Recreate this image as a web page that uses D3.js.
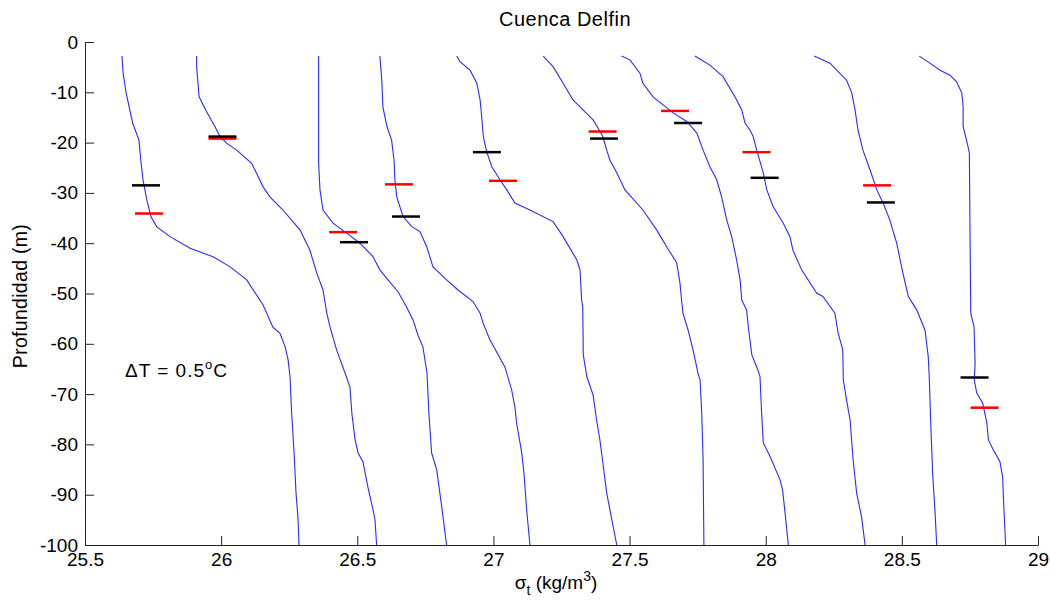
<!DOCTYPE html>
<html>
<head>
<meta charset="utf-8">
<script src="https://cdn.jsdelivr.net/npm/d3@7"></script>
<style>
  body { margin: 0; background: #fff; }
  text { font-family: "Liberation Sans", Arial, sans-serif; fill: #000; }
</style>
</head>
<body>
<div id="container"></div>
<script>

// sigma-t profiles, [sigma_t, depth]
const prof1 = [[25.636,-2.8],[25.640,-6.2],[25.651,-10.1],[25.675,-16.1],[25.698,-19.5],[25.705,-23.5],[25.713,-27.4],[25.727,-31.4],[25.742,-34.7],[25.763,-36.7],[25.812,-38.7],[25.886,-41.0],[25.970,-42.7],[26.033,-44.7],[26.094,-47.3],[26.154,-52.3],[26.190,-56.7],[26.216,-57.9],[26.235,-60.6],[26.246,-63.2],[26.253,-66.6],[26.259,-73.8],[26.268,-81.7],[26.275,-89.7],[26.282,-94.4],[26.286,-100]];
const prof2 = [[25.910,-2.8],[25.910,-4.9],[25.919,-10.9],[25.947,-13.9],[25.977,-16.8],[25.996,-18.8],[26.020,-20.1],[26.057,-21.5],[26.112,-24.1],[26.154,-28.8],[26.179,-30.8],[26.227,-33.4],[26.290,-37.4],[26.326,-41.4],[26.351,-45.9],[26.374,-49.3],[26.388,-53.9],[26.400,-56.7],[26.424,-61.2],[26.455,-65.8],[26.473,-68.6],[26.480,-73.8],[26.492,-79.1],[26.503,-81.7],[26.521,-83.5],[26.539,-88.5],[26.558,-93.0],[26.565,-95.0],[26.571,-100]];
const prof3 = [[26.358,-2.8],[26.358,-24.1],[26.363,-29.4],[26.374,-33.4],[26.411,-36.0],[26.461,-38.0],[26.510,-40.0],[26.558,-42.7],[26.583,-45.3],[26.613,-47.3],[26.650,-49.7],[26.681,-52.7],[26.705,-55.3],[26.723,-58.3],[26.741,-60.6],[26.756,-65.8],[26.763,-73.8],[26.773,-81.7],[26.792,-85.1],[26.810,-92.4],[26.828,-100]];
const prof4 = [[26.583,-2.8],[26.590,-7.6],[26.594,-12.9],[26.609,-16.8],[26.626,-19.5],[26.635,-23.5],[26.638,-27.4],[26.645,-30.8],[26.668,-34.7],[26.700,-36.7],[26.730,-37.7],[26.755,-40.7],[26.778,-44.7],[26.828,-47.3],[26.870,-49.3],[26.925,-51.6],[26.951,-53.9],[26.962,-55.9],[26.987,-59.2],[27.042,-64.6],[27.067,-69.2],[27.079,-72.6],[27.085,-75.7],[27.104,-81.7],[27.112,-85.7],[27.122,-93.0],[27.134,-100]];
const prof5 = [[26.865,-2.8],[26.877,-3.9],[26.914,-5.6],[26.939,-8.2],[26.951,-11.5],[26.957,-14.9],[26.963,-18.8],[26.975,-21.8],[26.994,-24.8],[27.024,-27.4],[27.049,-29.4],[27.079,-32.0],[27.134,-33.4],[27.219,-35.7],[27.256,-38.7],[27.306,-43.3],[27.318,-45.3],[27.324,-51.3],[27.328,-52.6],[27.330,-62.2],[27.343,-66.5],[27.366,-70.2],[27.379,-75.2],[27.391,-79.1],[27.402,-83.7],[27.416,-89.7],[27.428,-93.0],[27.453,-100]];
const prof6 = [[27.183,-2.8],[27.219,-4.9],[27.256,-8.2],[27.292,-11.5],[27.329,-13.5],[27.366,-15.5],[27.384,-17.1],[27.402,-18.8],[27.416,-21.5],[27.428,-23.5],[27.453,-26.0],[27.483,-29.4],[27.549,-33.4],[27.600,-37.4],[27.636,-40.7],[27.673,-43.9],[27.685,-47.9],[27.691,-51.3],[27.696,-53.9],[27.715,-57.3],[27.733,-61.2],[27.751,-65.8],[27.759,-67.2],[27.765,-73.8],[27.770,-83.1],[27.773,-100]];
const prof7 = [[27.471,-2.8],[27.502,-3.6],[27.538,-6.2],[27.549,-8.2],[27.586,-10.9],[27.623,-12.5],[27.660,-14.1],[27.710,-15.8],[27.747,-18.1],[27.770,-21.5],[27.795,-24.8],[27.820,-27.4],[27.838,-30.8],[27.857,-35.4],[27.875,-38.7],[27.893,-43.3],[27.906,-47.3],[27.912,-51.3],[27.930,-53.3],[27.936,-56.6],[27.949,-62.2],[27.967,-64.6],[27.979,-66.5],[27.985,-73.8],[27.991,-79.7],[28.016,-82.4],[28.053,-87.1],[28.062,-89.1],[28.071,-93.6],[28.083,-100]];
const prof8 = [[27.740,-2.8],[27.795,-4.6],[27.843,-6.9],[27.887,-10.9],[27.912,-13.5],[27.924,-16.1],[27.942,-17.5],[27.954,-18.8],[27.967,-21.5],[27.991,-26.0],[28.004,-29.4],[28.027,-32.7],[28.064,-36.0],[28.089,-38.7],[28.100,-41.4],[28.132,-45.3],[28.163,-47.9],[28.187,-49.9],[28.210,-50.6],[28.254,-53.9],[28.266,-57.9],[28.283,-61.2],[28.285,-67.2],[28.297,-71.2],[28.310,-75.2],[28.321,-83.1],[28.334,-89.7],[28.352,-94.4],[28.365,-100]];
const prof9 = [[28.178,-2.8],[28.236,-4.2],[28.266,-5.9],[28.297,-7.6],[28.316,-10.1],[28.328,-13.5],[28.339,-17.5],[28.357,-21.5],[28.383,-25.4],[28.408,-29.4],[28.431,-32.0],[28.456,-35.4],[28.481,-40.0],[28.499,-44.7],[28.512,-47.9],[28.524,-50.6],[28.555,-53.3],[28.585,-57.3],[28.597,-62.6],[28.601,-67.2],[28.606,-75.7],[28.613,-85.7],[28.622,-93.6],[28.628,-100]];
const prof10 = [[28.564,-2.8],[28.603,-4.2],[28.640,-5.6],[28.677,-6.6],[28.701,-7.9],[28.720,-10.1],[28.725,-12.9],[28.725,-16.8],[28.743,-20.8],[28.748,-22.1],[28.750,-36.0],[28.753,-53.9],[28.765,-56.6],[28.769,-63.8],[28.766,-67.2],[28.775,-69.8],[28.797,-71.8],[28.812,-75.7],[28.818,-79.1],[28.836,-81.1],[28.860,-83.4],[28.870,-86.4],[28.875,-93.0],[28.881,-100]];
const profiles = [prof1, prof2, prof3, prof4, prof5, prof6, prof7, prof8, prof9, prof10];

// mixed layer depth marks (black and red)
const blackSigma = [25.724, 26.005, 26.488, 26.679, 26.976, 27.406, 27.715, 27.996, 28.423, 28.767];
const blackDepth = [-28.5, -18.8, -39.8, -34.7, -21.9, -19.2, -16.1, -27.0, -31.9, -66.7];
const redSigma   = [25.735, 26.005, 26.448, 26.653, 27.035, 27.401, 27.667, 27.966, 28.409, 28.804];
const redDepth   = [-34.1, -19.2, -37.8, -28.3, -27.6, -17.8, -13.7, -21.9, -28.5, -72.7];

const xTicks = [25.5, 26, 26.5, 27, 27.5, 28, 28.5, 29];
const yTicks = [0, -10, -20, -30, -40, -50, -60, -70, -80, -90, -100];

const width = 1050, height = 600;
const margin = { left: 85, right: 12, top: 42, bottom: 55 };

const x = d3.scaleLinear().domain([25.5, 29]).range([margin.left, width - margin.right]);
const y = d3.scaleLinear().domain([-100, 0]).range([height - margin.bottom, margin.top]);

const svg = d3.select('#container').append('svg')
    .attr('width', width)
    .attr('height', height);

// profiles
const line = d3.line().x(d => x(d[0])).y(d => y(d[1]));
svg.append('g').selectAll('path').data(profiles).enter().append('path')
    .attr('d', line)
    .attr('fill', 'none')
    .attr('stroke', '#2a2aff')
    .attr('stroke-width', 1.1);

// marks
const half = 14;
svg.append('g').selectAll('line').data(d3.range(redSigma.length)).enter().append('line')
    .attr('x1', i => x(redSigma[i]) - half)
    .attr('x2', i => x(redSigma[i]) + half)
    .attr('y1', i => y(redDepth[i]))
    .attr('y2', i => y(redDepth[i]))
    .attr('stroke', '#ff0000')
    .attr('stroke-width', 2.5);
svg.append('g').selectAll('line').data(d3.range(blackSigma.length)).enter().append('line')
    .attr('x1', i => x(blackSigma[i]) - half)
    .attr('x2', i => x(blackSigma[i]) + half)
    .attr('y1', i => y(blackDepth[i]))
    .attr('y2', i => y(blackDepth[i]))
    .attr('stroke', '#000')
    .attr('stroke-width', 2.5);

// axes, ticks pointing inward like matlab
const fmt = d => String(d);
const xAxis = svg.append('g')
    .attr('transform', `translate(0,${height - margin.bottom})`)
    .call(d3.axisBottom(x).tickValues(xTicks).tickFormat(fmt).tickSizeInner(-9).tickSizeOuter(0).tickPadding(8));
const yAxis = svg.append('g')
    .attr('transform', `translate(${margin.left},0)`)
    .call(d3.axisLeft(y).tickValues(yTicks).tickFormat(fmt).tickSizeInner(-9).tickSizeOuter(0).tickPadding(7));

[xAxis, yAxis].forEach(a => {
  a.selectAll('path, line').attr('stroke', '#222').attr('stroke-width', 1);
  a.selectAll('text').style('font-size', '19px').attr('fill', '#000');
});
xAxis.selectAll('text').attr('dy', '0.71em');

// title and labels
svg.append('text')
    .attr('x', 565)
    .attr('y', 26)
    .attr('text-anchor', 'middle')
    .style('font-size', '20px')
    .style('letter-spacing', '0.5px')
    .text('Cuenca Delfin');

const xl = svg.append('text')
    .attr('x', 556)
    .attr('y', 589)
    .attr('text-anchor', 'middle')
    .style('font-size', '19px');
xl.append('tspan').text('σ');
xl.append('tspan').attr('dy', 6).style('font-size', '14px').text('t');
xl.append('tspan').attr('dy', -6).text(' (kg/m');
xl.append('tspan').attr('dy', -8).style('font-size', '14px').text('3');
xl.append('tspan').attr('dy', 8).text(')');

svg.append('text')
    .attr('transform', 'translate(27,296) rotate(-90)')
    .attr('text-anchor', 'middle')
    .style('font-size', '19.5px')
    .style('letter-spacing', '0.3px')
    .text('Profundidad (m)');

const dt = svg.append('text')
    .attr('x', 125)
    .attr('y', 377)
    .style('font-size', '19px')
    .style('letter-spacing', '1px');
dt.append('tspan').text('ΔT = 0.5');
dt.append('tspan').attr('dy', -8).style('font-size', '13px').text('o');
dt.append('tspan').attr('dy', 8).text('C');

</script>
</body>
</html>
